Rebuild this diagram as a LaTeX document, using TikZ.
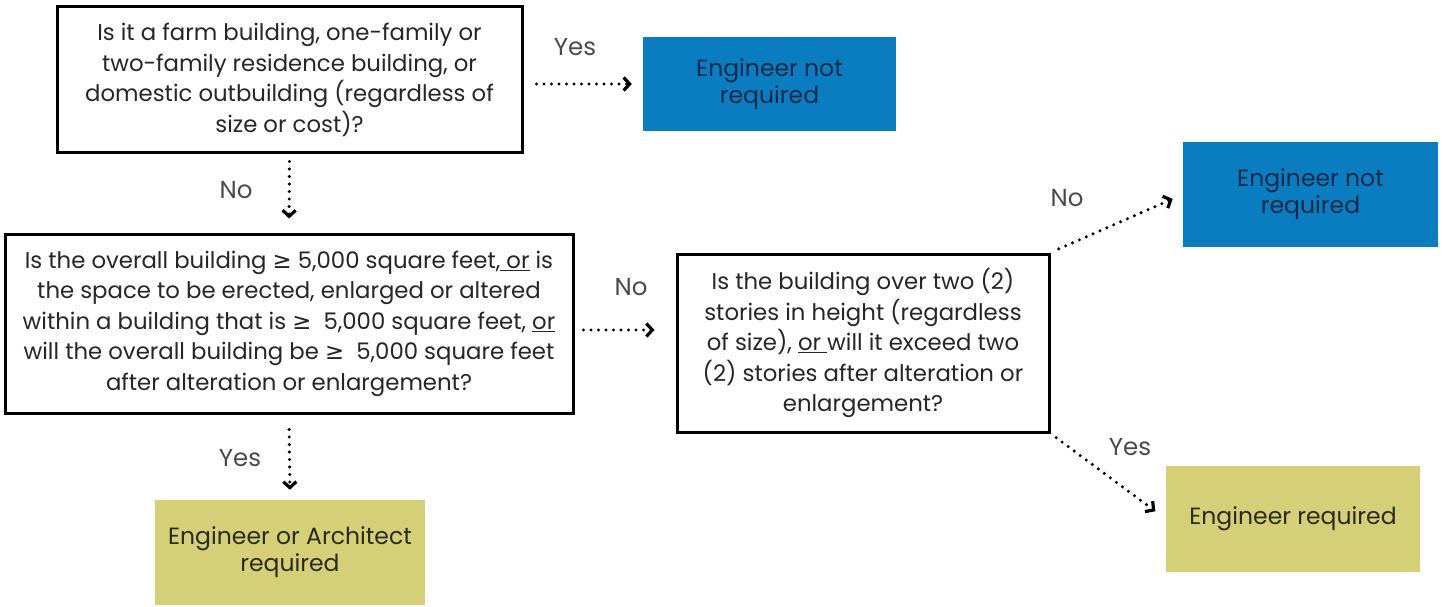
\documentclass[tikz,border=0pt]{standalone}
\usepackage{fontspec}
\setmainfont{Poppins}
\newfontfamily\symfont{DejaVu Sans}
\usetikzlibrary{arrows.meta}
\definecolor{qtext}{HTML}{262626}
\definecolor{lbl}{HTML}{4A4A4A}
\definecolor{bluebox}{HTML}{0A7DC0}
\definecolor{bluetext}{HTML}{13294B}
\definecolor{yelbox}{HTML}{D5CF78}
\definecolor{yeltext}{HTML}{2A2A1E}
\newcommand{\geqsym}{{\symfont ≥}}
\tikzset{
  qbox/.style={draw=black, line width=3pt, fill=white, align=center, text=qtext,
    font=\fontsize{22.8}{30.5}\selectfont, inner sep=0pt},
  bluebx/.style={fill=bluebox, align=center, text=bluetext,
    font=\fontsize{23.5}{27}\selectfont, inner sep=0pt},
  yelbx/.style={fill=yelbox, align=center, text=yeltext,
    font=\fontsize{23.5}{27}\selectfont, inner sep=0pt},
  lab/.style={text=lbl, font=\fontsize{24.5}{28}\selectfont, inner sep=0pt},
  flow/.style={line width=3.4pt, dash pattern=on 0pt off 7.5pt, line cap=round,
    -{Straight Barb[length=6pt,width=13pt,line width=3.2pt]}}
}
\begin{document}
\begin{tikzpicture}[x=1pt,y=-1pt]
\useasboundingbox (0,0) rectangle (1443,607);
\node[qbox, minimum width=465, minimum height=146] (q1) at (289.5,80)
  {Is it a farm building, one-family or\\two-family residence building, or\\domestic outbuilding (regardless of\\size or cost)?};
\node[bluebx, minimum width=253, minimum height=94] (b1) at (769.5,84)
  {Engineer not\\required};
\node[qbox, minimum width=568, minimum height=179] (q2) at (289,323.5)
  {Is the overall building \geqsym\ 5,000 square feet,\underline{ or} is\\the space to be erected, enlarged or altered\\within a building that is \geqsym\ \ 5,000 square feet, \underline{or}\\will the overall building be \geqsym\ \ 5,000 square feet\\after alteration or enlargement?};
\node[qbox, minimum width=372, minimum height=178] (q3) at (863,343)
  {Is the building over two (2)\\stories in height (regardless\\of size), \underline{or }will it exceed two\\(2) stories after alteration or\\enlargement?};
\node[bluebx, minimum width=255, minimum height=105] (b2) at (1310.5,194.5)
  {Engineer not\\required};
\node[yelbx, minimum width=254, minimum height=106] (y2) at (1293,519)
  {Engineer required};
\node[yelbx, minimum width=270, minimum height=105] (y1) at (290,552.5)
  {Engineer or Architect\\required};

\draw[flow, shorten <=13pt, shorten >=11pt] (q1.east |- b1.west) -- (b1.west);
\draw[flow, shorten <=7pt, shorten >=14pt] (q1.south) -- (q2.north);
\draw[flow, shorten <=9pt, shorten >=21pt] ([yshift=-6.5pt]q2.east) -- ([yshift=-6.5pt]q2.east -| q3.west);
\draw[flow, shorten <=9pt, shorten >=11pt] (q3.north east) -- (b2.west);
\draw[flow, shorten <=7pt, shorten >=13pt] (q3.south east) -- (y2.west);
\draw[flow, shorten <=15pt, shorten >=10pt] (q2.south) -- (y1.north);

\node[lab] (l1) at (575,47) {Yes};
\node[lab] (l2) at (236,190) {No};
\node[lab] (l3) at (631,287) {No};
\node[lab] (l4) at (1067,198) {No};
\node[lab] (l5) at (1130,447) {Yes};
\node[lab] (l6) at (240,458) {Yes};
\end{tikzpicture}
\end{document}
